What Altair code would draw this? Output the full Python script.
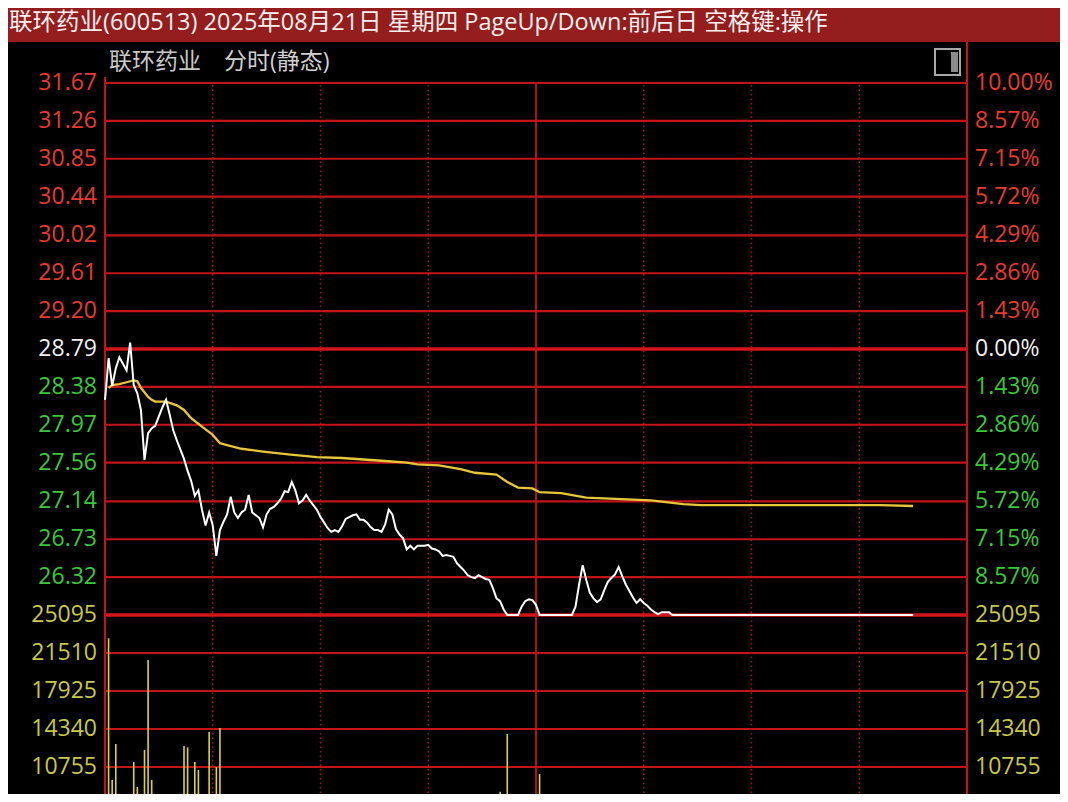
import altair as alt
import pandas as pd

# ---------------- data ----------------
BASE = 28.79
LIMIT_DOWN = 25.91
LIMIT_UP = 31.67
VOL_MAX = 25095

title_text = "联环药业(600513) 2025年08月21日 星期四 PageUp/Down:前后日 空格键:操作"
sub_name = "联环药业"
sub_mode = "分时(静态)"

price_minutes = list(range(0, 113)) + [115, 116, 117, 118, 119, 120, 121, 130] + list(range(131, 156)) + [157, 158, 225]
price_values = [
    28.24, 28.69, 28.39, 28.58, 28.70, 28.63, 28.56, 28.86, 28.40, 28.31,
    28.13, 27.59, 27.88, 27.93, 27.96, 28.06, 28.16, 28.24, 28.08, 27.91,
    27.80, 27.70, 27.60, 27.47, 27.36, 27.20, 27.26, 27.05, 26.88, 27.02,
    26.88, 26.55, 26.83, 26.92, 27.00, 27.19, 27.02, 26.96, 27.02, 27.05,
    27.21, 27.02, 26.99, 26.96, 26.86, 27.00, 27.06, 27.08, 27.12, 27.17,
    27.25, 27.24, 27.35, 27.26, 27.12, 27.15, 27.21, 27.15, 27.10, 27.05,
    26.97, 26.91, 26.85, 26.81, 26.83, 26.81, 26.87, 26.95, 26.97, 26.99,
    27.00, 26.94, 26.94, 26.91, 26.86, 26.83, 26.83, 26.81, 26.89, 27.05,
    27.00, 26.84, 26.78, 26.74, 26.62, 26.66, 26.62, 26.66, 26.66, 26.66,
    26.67, 26.63, 26.62, 26.60, 26.55, 26.56, 26.55, 26.54, 26.47, 26.43,
    26.39, 26.34, 26.32, 26.31, 26.34, 26.32, 26.30, 26.29, 26.20, 26.09,
    26.06, 25.97, 25.91,
    25.91, 26.00, 26.06, 26.08, 26.07, 26.02, 25.91, 25.91,
    26.00, 26.24, 26.45, 26.29, 26.15, 26.09, 26.05, 26.08, 26.18, 26.27,
    26.31, 26.35, 26.43, 26.33, 26.24, 26.17, 26.10, 26.04, 26.08, 26.04,
    26.01, 25.97, 25.94, 25.92, 25.94,
    25.94, 25.91, 25.91,
]

avg_minutes = [1, 2, 4, 6, 8, 9, 10, 12, 13, 14, 17, 20, 22, 24, 27, 30, 32, 34, 38, 44,
               51, 59, 66, 77, 84, 87, 93, 99, 103, 109, 112, 115, 119, 121, 127, 134,
               147, 152, 161, 166, 216, 225]
avg_values = [28.37, 28.40, 28.41, 28.43, 28.45, 28.44, 28.37, 28.27, 28.24, 28.22,
              28.22, 28.18, 28.13, 28.04, 27.95, 27.86, 27.77, 27.75, 27.71, 27.68,
              27.65, 27.62, 27.61, 27.58, 27.56, 27.54, 27.53, 27.49, 27.45, 27.43,
              27.35, 27.29, 27.28, 27.24, 27.23, 27.18, 27.16, 27.15, 27.11, 27.10,
              27.10, 27.09]

vol_minutes = [1, 2, 3, 5, 8, 9, 11, 12, 13, 14, 20, 22, 23, 25, 26, 28, 29, 31, 32, 110, 112, 121]
vol_values = [22900, 9530, 12930, 7640, 11230, 8870, 12360, 20850, 9530, 7830, 8000,
              12740, 12600, 11230, 10470, 8000, 14060, 10755, 14430, 8430, 13870, 10090]

price_ticks = [31.67, 31.26, 30.85, 30.44, 30.02, 29.61, 29.20, 28.79,
               28.38, 27.97, 27.56, 27.14, 26.73, 26.32]
pct_labels = ["10.00%", "8.57%", "7.15%", "5.72%", "4.29%", "2.86%", "1.43%", "0.00%",
              "1.43%", "2.86%", "4.29%", "5.72%", "7.15%", "8.57%"]
vol_ticks = [25095, 21510, 17925, 14340, 10755, 7170]

dotted_minutes = [30, 60, 90, 150, 180, 210]
noon_minute = [120]

# ---------------- styling ----------------
W, H = 862, 711
RED = "#C3141A"
RED_THICK = "#D2161C"
UP = "#E63C30"
DOWN = "#3CC83C"
FLAT = "#F0F0F0"
VOLC = "#C8C84A"
FONT = "Open Sans"
CJK = "Open Sans, Noto Sans CJK SC"

xs = alt.Scale(domain=[0, 240], nice=False, zero=False)
ps = alt.Scale(domain=[LIMIT_DOWN, LIMIT_UP], range=[532, 0], nice=False, zero=False)
vs = alt.Scale(domain=[0, VOL_MAX], range=[798, 532], nice=False, zero=False)

def col(v):
    if abs(v - BASE) < 1e-9:
        return FLAT
    return UP if v > BASE else DOWN

ticks_df = pd.DataFrame({
    "p": price_ticks,
    "txt": [f"{v:.2f}" for v in price_ticks],
    "pct": pct_labels,
    "col": [col(v) for v in price_ticks],
})
grid_df = ticks_df[ticks_df["p"] != BASE]
base_df = pd.DataFrame({"p": [BASE, LIMIT_DOWN]})
vol_tick_df = pd.DataFrame({"v": vol_ticks, "txt": [str(v) for v in vol_ticks]})
price_df = pd.DataFrame({"m": price_minutes, "p": price_values})
avg_df = pd.DataFrame({"m": avg_minutes, "p": avg_values})
vol_df = pd.DataFrame({"m": vol_minutes, "v": vol_values})
one = pd.DataFrame({"k": [0]})

X = alt.X("m:Q", scale=xs, axis=None)
YP = alt.Y("p:Q", scale=ps, axis=None)
YV = alt.Y("v:Q", scale=vs, axis=None)

layers = []

# title bar
layers.append(alt.Chart(one).mark_rect(color="#941D1D").encode(
    x=alt.value(-97), x2=alt.value(955), y=alt.value(-75), y2=alt.value(-41)))
layers.append(alt.Chart(pd.DataFrame({"txt": [title_text]})).mark_text(
    align="left", baseline="middle", font=CJK, fontSize=23.5, color="#F6F0F0").encode(
    x=alt.value(-96), y=alt.value(-60), text="txt:N"))
layers.append(alt.Chart(pd.DataFrame({"txt": [sub_name]})).mark_text(
    align="left", baseline="middle", font=CJK, fontSize=23, color="#C8C8C8").encode(
    x=alt.value(4), y=alt.value(-21), text="txt:N"))
layers.append(alt.Chart(pd.DataFrame({"txt": [sub_mode]})).mark_text(
    align="left", baseline="middle", font=CJK, fontSize=23, color="#D0D0D0").encode(
    x=alt.value(119), y=alt.value(-21), text="txt:N"))
# small icon
layers.append(alt.Chart(one).mark_rect(fillOpacity=0, stroke="#A8A8A8", strokeWidth=2).encode(
    x=alt.value(830), x2=alt.value(855), y=alt.value(-34), y2=alt.value(-8)))
layers.append(alt.Chart(one).mark_rect(color="#8C8C8C").encode(
    x=alt.value(846), x2=alt.value(853), y=alt.value(-31), y2=alt.value(-11)))

# horizontal grids
layers.append(alt.Chart(grid_df).mark_rule(color=RED, strokeWidth=2.2).encode(
    y=YP, x=alt.value(0), x2=alt.value(W)))
layers.append(alt.Chart(vol_tick_df[vol_tick_df["v"] != VOL_MAX]).mark_rule(color=RED, strokeWidth=2.2).encode(
    y=YV, x=alt.value(0), x2=alt.value(W)))
layers.append(alt.Chart(base_df).mark_rule(color=RED_THICK, strokeWidth=3.5).encode(
    y=YP, x=alt.value(0), x2=alt.value(W)))

# vertical grids
layers.append(alt.Chart(pd.DataFrame({"m": dotted_minutes})).mark_rule(
    color="#B01418", strokeWidth=1.5, strokeDash=[1.5, 3]).encode(
    x=X, y=alt.value(2), y2=alt.value(H)))
layers.append(alt.Chart(pd.DataFrame({"m": noon_minute})).mark_rule(
    color=RED, strokeWidth=1.8).encode(x=X, y=alt.value(0), y2=alt.value(H)))
layers.append(alt.Chart(pd.DataFrame({"m": [0]})).mark_rule(
    color=RED, strokeWidth=2).encode(x=X, y=alt.value(-6), y2=alt.value(H)))
layers.append(alt.Chart(pd.DataFrame({"m": [240]})).mark_rule(
    color=RED, strokeWidth=2).encode(x=X, y=alt.value(-41), y2=alt.value(H)))

# volume bars
layers.append(alt.Chart(vol_df).mark_rule(color="#DCD23C", strokeWidth=1.6, clip=True).encode(
    x=X, y=YV, y2=alt.datum(0)))

# average and price lines
layers.append(alt.Chart(avg_df).mark_line(color="#E8C63A", strokeWidth=2.3).encode(x=X, y=YP))
layers.append(alt.Chart(price_df).mark_line(color="#FFFFFF", strokeWidth=2).encode(x=X, y=YP))

# axis labels
layers.append(alt.Chart(ticks_df).mark_text(
    align="right", baseline="middle", font=FONT, fontSize=23).encode(
    y=YP, x=alt.value(-8), text="txt:N", color=alt.Color("col:N", scale=None)))
layers.append(alt.Chart(ticks_df).mark_text(
    align="left", baseline="middle", font=FONT, fontSize=23).encode(
    y=YP, x=alt.value(870), text="pct:N", color=alt.Color("col:N", scale=None)))
layers.append(alt.Chart(vol_tick_df).mark_text(
    align="right", baseline="middle", font=FONT, fontSize=23, color=VOLC).encode(
    y=YV, x=alt.value(-8), text="txt:N"))
layers.append(alt.Chart(vol_tick_df).mark_text(
    align="left", baseline="middle", font=FONT, fontSize=23, color=VOLC).encode(
    y=YV, x=alt.value(870), text="txt:N"))

chart = alt.layer(*layers).resolve_scale(y="independent").properties(
    width=W, height=H,
    autosize=alt.AutoSizeParams(type="none"),
    padding={"left": 97, "top": 75, "right": 93, "bottom": 0},
).configure(background="#000000").configure_view(strokeWidth=0)

chart.save("out.html", embed_options={"renderer": "svg", "actions": False})
